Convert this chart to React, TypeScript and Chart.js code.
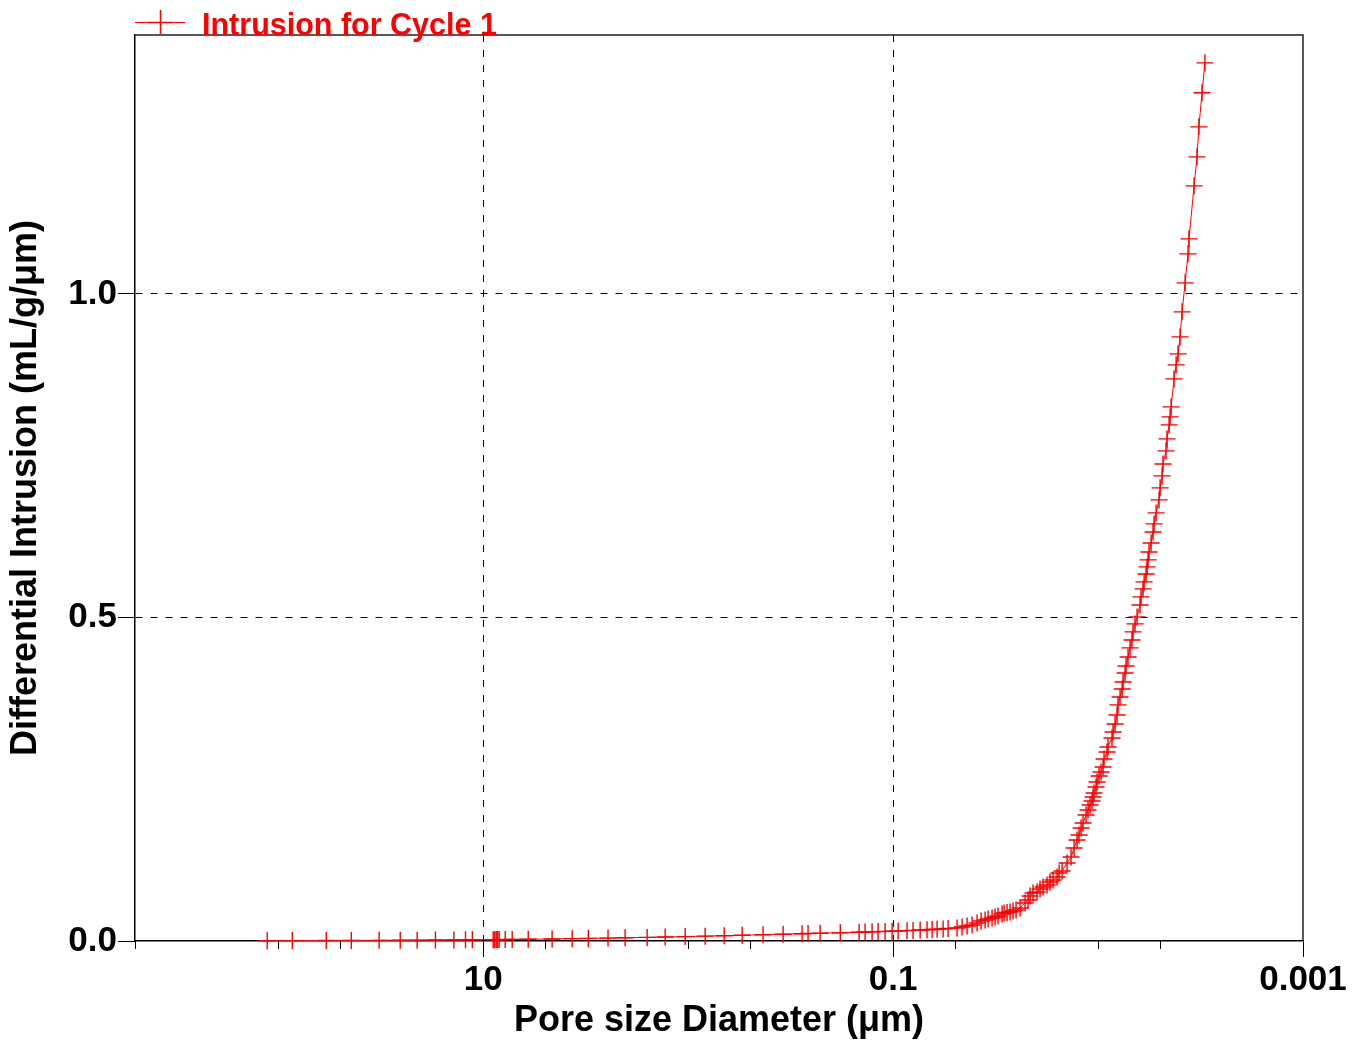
import { useEffect, useRef } from "react";
import { Chart, registerables } from "chart.js";

Chart.register(...registerables);

const FONT = "'Liberation Sans', Arial, Helvetica, sans-serif";

// Pore size diameter (µm)
const poreDiameter = [
  113.2, 85.4, 58.3, 44.0, 32.2, 25.4, 21.0, 17.1, 13.9, 12.2, 11.3,
  8.94, 8.79, 8.64, 8.5, 8.36, 7.81, 7.22, 6.03, 4.61, 3.68, 3.07, 2.46, 2.03,
  1.585, 1.295, 1.034, 0.826, 0.667, 0.545, 0.431, 0.344, 0.278, 0.26, 0.227,
  0.181, 0.1465, 0.137, 0.1266, 0.1184, 0.1094, 0.1011, 0.0945, 0.0855, 0.0799,
  0.0738, 0.0683, 0.0645, 0.061, 0.057, 0.0539,
  0.04873, 0.04607, 0.04355, 0.04117, 0.03892, 0.03721, 0.03557, 0.0344, 0.03289,
  0.0318, 0.03075, 0.02939, 0.02874, 0.02779, 0.02687, 0.02598, 0.02512, 0.02401,
  0.0227, 0.02195, 0.02147, 0.02076, 0.01985, 0.01919, 0.01855, 0.01774, 0.01715,
  0.01658, 0.01585, 0.01549, 0.01498, 0.01416, 0.01354, 0.01309, 0.01266, 0.01238,
  0.0121, 0.01184, 0.01144, 0.01119, 0.01094, 0.0107, 0.01058, 0.01046, 0.01023,
  0.01011, 0.00989, 0.00967, 0.00945, 0.00935, 0.00904, 0.00894, 0.00855, 0.00845,
  0.00826, 0.00808, 0.00799, 0.00781, 0.00763, 0.00755, 0.00738, 0.0073, 0.00714,
  0.00698, 0.00683, 0.00675, 0.0066, 0.00645, 0.00624, 0.00617, 0.00603, 0.00596,
  0.00583, 0.00577, 0.0057, 0.00564, 0.00551, 0.00539, 0.00533, 0.00521, 0.00504,
  0.00498, 0.00487, 0.00482, 0.00466, 0.00461, 0.0045, 0.00445, 0.0044, 0.00426,
  0.00416, 0.00407, 0.00398, 0.00389, 0.00376, 0.00364, 0.0036, 0.0034, 0.00329,
  0.00322, 0.00311, 0.00301,
];

// Differential intrusion (mL/g/µm)
const diffIntrusion = [
  0.0005, 0.0006, 0.0008, 0.0009, 0.001, 0.0012, 0.0013, 0.0015, 0.0017, 0.0018, 0.0019,
  0.0021, 0.0021, 0.0022, 0.0022, 0.0022, 0.0024, 0.0025, 0.0028, 0.0032, 0.0036, 0.004, 0.0045, 0.005,
  0.0056, 0.0062, 0.0068, 0.0075, 0.0082, 0.0089, 0.0097, 0.0105, 0.0112, 0.0115, 0.012,
  0.0128, 0.0136, 0.0139, 0.0142, 0.0145, 0.0148, 0.0152, 0.0155, 0.016, 0.0164,
  0.0169, 0.0174, 0.0178, 0.0182, 0.0187, 0.0192,
  0.0201, 0.0216, 0.0232, 0.0247, 0.0278, 0.0309, 0.0325, 0.034, 0.0355,
  0.0371, 0.0386, 0.0417, 0.0433, 0.044, 0.0448, 0.0464, 0.0479, 0.051,
  0.0587, 0.0634, 0.0696, 0.0742, 0.0757, 0.0804, 0.0835, 0.0866, 0.0912,
  0.0943, 0.0989, 0.1051, 0.1082, 0.1206, 0.1298, 0.1437, 0.1561, 0.1638,
  0.1747, 0.1824, 0.1947, 0.2025, 0.2102, 0.2164, 0.2226, 0.2287, 0.238,
  0.2457, 0.255, 0.2612, 0.2689, 0.2813, 0.2921, 0.2998, 0.3138, 0.323,
  0.3354, 0.3493, 0.3648, 0.3771, 0.3895, 0.4003, 0.4142, 0.425, 0.4389,
  0.4529, 0.4652, 0.4776, 0.49, 0.5008, 0.5193, 0.5317, 0.5441, 0.5549,
  0.5672, 0.5781, 0.5889, 0.6012, 0.6151, 0.6321, 0.6445, 0.6615, 0.6816,
  0.7002, 0.7187, 0.7372, 0.7573, 0.7759, 0.7975, 0.8099, 0.8253, 0.8686,
  0.8903, 0.9073, 0.9335, 0.9722, 1.017, 1.0618, 1.085, 1.1669, 1.2117,
  1.2581, 1.3107, 1.357,
];

const seriesLabel = "Intrusion for Cycle 1";
const xTickValues = [500, 100, 50, 10, 5, 1, 0.5, 0.1, 0.05, 0.01, 0.005, 0.001];
const xMajorTicks = [10, 0.1, 0.001];
const xTickLabels = ["10", "0.1", "0.001"];
const yTickValues = [0, 0.5, 1.0];
const yTickLabels = ["0.0", "0.5", "1.0"];

const RED = "#ff0000";

const framePlugin = {
  id: "frameAndLegend",
  afterDraw(chart: any) {
    const { ctx, chartArea, scales } = chart;
    const { left, top, right, bottom } = chartArea;
    const x = scales.x;
    ctx.save();
    // top / right frame
    ctx.strokeStyle = "#222";
    ctx.lineWidth = 1.5;
    ctx.setLineDash([]);
    ctx.beginPath();
    ctx.moveTo(left, top);
    ctx.lineTo(right, top);
    ctx.lineTo(right, bottom);
    ctx.stroke();
    // minor tick marks
    ctx.strokeStyle = "#000";
    ctx.lineWidth = 1;
    xTickValues
      .filter((v) => !xMajorTicks.includes(v))
      .forEach((v) => {
        const px = Math.round(x.getPixelForValue(v)) + 0.5;
        ctx.beginPath();
        ctx.moveTo(px, bottom);
        ctx.lineTo(px, bottom + 8);
        ctx.stroke();
      });
    // legend
    const ds = chart.data.datasets[0];
    ctx.strokeStyle = RED;
    ctx.lineWidth = 1;
    ctx.beginPath();
    ctx.moveTo(135, 22.5);
    ctx.lineTo(185, 22.5);
    ctx.stroke();
    ctx.lineWidth = 1.5;
    ctx.beginPath();
    ctx.moveTo(148, 22.5);
    ctx.lineTo(172, 22.5);
    ctx.moveTo(160.5, 10);
    ctx.lineTo(160.5, 34);
    ctx.stroke();
    ctx.fillStyle = RED;
    ctx.font = `bold 30.5px ${FONT}`;
    ctx.textBaseline = "alphabetic";
    ctx.textAlign = "left";
    ctx.fillText(ds.label, 202, 35);
    ctx.restore();
  },
};

export default function App() {
  const ref = useRef<HTMLCanvasElement>(null);

  useEffect(() => {
    const points = poreDiameter.map((d, i) => ({ x: d, y: diffIntrusion[i] }));
    const tickFont = { family: FONT, size: 35, weight: "bold" as const };
    const titleFont = { family: FONT, size: 36, weight: "bold" as const };
    const chart = new Chart(ref.current!, {
      type: "line",
      data: {
        datasets: [
          {
            label: seriesLabel,
            data: points,
            borderColor: RED,
            backgroundColor: RED,
            borderWidth: 1,
            pointStyle: "cross",
            pointRadius: 8.5,
            pointBorderWidth: 1.4,
            pointBorderColor: RED,
            pointHoverRadius: 8.5,
            tension: 0,
            fill: false,
            clip: false as any,
          },
        ],
      },
      options: {
        responsive: false,
        animation: false,
        devicePixelRatio: 1,
        events: [],
        layout: { padding: { top: 35, right: 60, bottom: 0, left: 0 } },
        plugins: { legend: { display: false }, tooltip: { enabled: false } },
        scales: {
          x: {
            type: "logarithmic",
            position: "bottom",
            reverse: true,
            min: 0.001,
            max: 500,
            afterBuildTicks: (s: any) => {
              s.ticks = xTickValues.map((v) => ({ value: v, major: xMajorTicks.includes(v) }));
            },
            afterFit: (s: any) => {
              s.height = 102;
            },
            ticks: {
              autoSkip: false,
              maxRotation: 0,
              minRotation: 0,
              padding: 2,
              color: "#000",
              font: tickFont,
              callback: (v: any) => {
                const i = xMajorTicks.indexOf(Number(v));
                return i >= 0 ? xTickLabels[i] : "";
              },
            },
            grid: {
              lineWidth: 1,
              tickLength: 16,
              tickWidth: 1,
              color: (ctx: any) => {
                const v = ctx.tick ? ctx.tick.value : null;
                return v === 10 || v === 0.1 ? "#000" : "rgba(0,0,0,0)";
              },
              tickColor: (ctx: any) => {
                const v = ctx.tick ? ctx.tick.value : null;
                return xMajorTicks.includes(v) ? "#000" : "rgba(0,0,0,0)";
              },
            },
            border: {
              display: true,
              color: "#000",
              width: 1.5,
              dash: (ctx: any) => (ctx.type === "tick" ? [7, 8] : []),
            },
            title: {
              display: true,
              text: "Pore size Diameter (μm)",
              color: "#000",
              font: titleFont,
              padding: { top: 0, bottom: 0 },
            },
          },
          y: {
            type: "linear",
            position: "left",
            min: 0,
            max: 1.4,
            afterBuildTicks: (s: any) => {
              s.ticks = yTickValues.map((v) => ({ value: v }));
            },
            afterFit: (s: any) => {
              s.width = 135;
            },
            ticks: {
              padding: 1,
              color: "#000",
              font: tickFont,
              callback: (v: any) => {
                const i = yTickValues.indexOf(Number(v));
                return i >= 0 ? yTickLabels[i] : "";
              },
            },
            grid: {
              lineWidth: 1,
              tickLength: 17,
              tickWidth: 1,
              color: (ctx: any) => (ctx.tick && ctx.tick.value === 0 ? "rgba(0,0,0,0)" : "#000"),
              tickColor: "#000",
            },
            border: {
              display: true,
              color: "#000",
              width: 1.5,
              dash: (ctx: any) => (ctx.type === "tick" ? [7, 8] : []),
            },
            title: {
              display: true,
              text: "Differential Intrusion (mL/g/μm)",
              color: "#000",
              font: titleFont,
              padding: { top: 4, bottom: 0 },
            },
          },
        },
      },
      plugins: [framePlugin],
    });
    return () => chart.destroy();
  }, []);

  return (
    <div style={{ position: "fixed", left: 0, top: 0, width: 1363, height: 1043, background: "#fff" }}>
      <canvas ref={ref} width={1363} height={1043} style={{ display: "block" }} />
    </div>
  );
}
